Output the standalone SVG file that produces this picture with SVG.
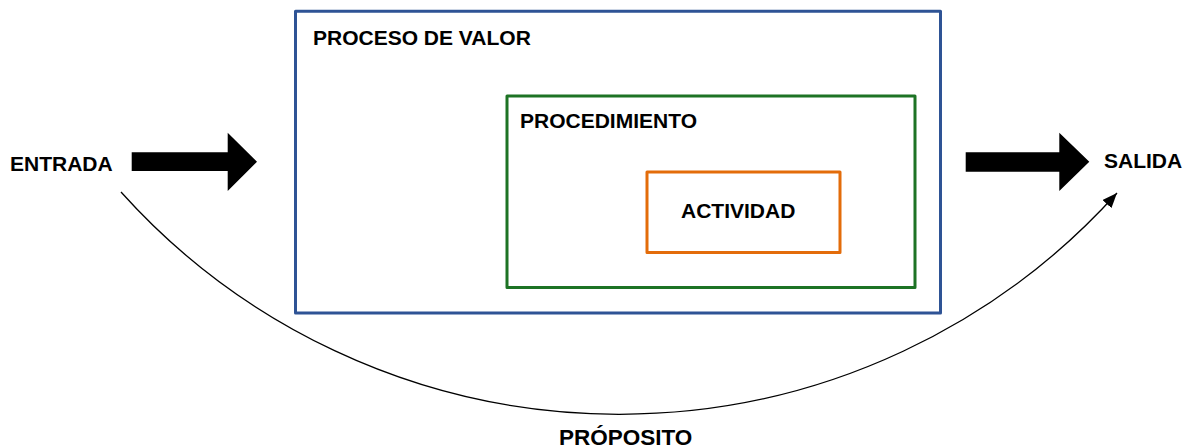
<svg xmlns="http://www.w3.org/2000/svg" width="1188" height="448" viewBox="0 0 1188 448">
  <style>
    .lbl { font-family: "Liberation Sans", Arial, sans-serif; font-weight: bold; font-size: 21px; fill: #000; }
    .box { fill: none; stroke-width: 3; stroke-linejoin: round; }
    .big { fill: #000; }
  </style>
  <defs>
    <marker id="ah" markerUnits="userSpaceOnUse" markerWidth="16" markerHeight="12" refX="15" refY="6" orient="auto">
      <path d="M0,0 L15,6 L0,12 Z" fill="#000"/>
    </marker>
  </defs>
  <rect width="1188" height="448" fill="#fff"/>
  <g id="proceso-de-valor">
    <rect class="box" x="295.5" y="11.3" width="645" height="301.7" stroke="#2E5395"/>
    <text class="lbl" x="313" y="45">PROCESO DE VALOR</text>
  </g>
  <g id="procedimiento">
    <rect class="box" x="507" y="96" width="408" height="191.5" stroke="#1D7324"/>
    <text class="lbl" x="520" y="128">PROCEDIMIENTO</text>
  </g>
  <g id="actividad">
    <rect class="box" x="647" y="172" width="193" height="80.5" stroke="#E36C0A"/>
    <text class="lbl" x="681" y="218">ACTIVIDAD</text>
  </g>
  <g id="entrada">
    <text class="lbl" x="10" y="171">ENTRADA</text>
  </g>
  <g id="salida">
    <text class="lbl" x="1104" y="168">SALIDA</text>
  </g>
  <g id="proposito">
    <text class="lbl" x="559" y="445" style="font-size:22.5px">PRÓPOSITO</text>
  </g>
  <g id="connectors">
    <polygon class="big" points="131.7,152.3 227.7,152.3 227.7,132.7 257,161.7 227.7,191 227.7,171 131.7,171"/>
    <polygon class="big" points="965.7,152.3 1059.3,152.3 1059.3,132.7 1089.3,161.7 1059.3,191 1059.3,171.7 965.7,171.7"/>
    <path d="M121,192 A670,670 0 0 0 1117,193" fill="none" stroke="#000" stroke-width="1.3" marker-end="url(#ah)"/>
  </g>
</svg>
